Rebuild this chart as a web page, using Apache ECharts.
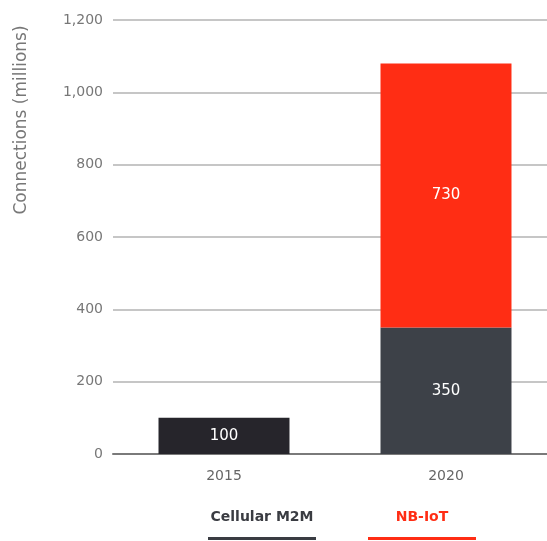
<!DOCTYPE html>
<html>
<head>
<meta charset="utf-8">
<script src="https://cdn.jsdelivr.net/npm/echarts@6/dist/echarts.min.js"></script>
<style>
html,body{margin:0;padding:0;background:#fff;}
#chart{width:547px;height:541px;}
</style>
</head>
<body>
<div id="chart"></div>
<script>
// data
var years = ['2015', '2020'];
var m2m = [100, 350];
var nbiot = [null, 730];
var yTicks = [0, 200, 400, 600, 800, 1000, 1200];

var FONT = 'DejaVu Sans';
var chart = echarts.init(document.getElementById('chart'));

function legendFor(name, color, left) {
	return {
		left: left,
		top: 510,
		padding: 0,
		icon: 'none',
		itemWidth: 0,
		selectedMode: false,
		data: [name],
		formatter: function(n) {
			return '{t|' + n + '}\n{l|}';
		},
		textStyle: {
			rich: {
				t: {width: 108, align: 'center', lineHeight: 20, padding: [0, 0, 20, 0],
					color: color, fontFamily: FONT, fontSize: 14, fontWeight: 'bold'},
				l: {width: 108, height: 3, backgroundColor: color}
			}
		}
	};
}

var option = {
	animation: false,
	backgroundColor: '#fff',
	grid: {left: 113, width: 444, top: 20, bottom: 87, outerBoundsMode: 'none', containLabel: false},
	graphic: [{
		type: 'text',
		x: 22, y: 120,
		rotation: Math.PI / 2,
		style: {
			text: 'Connections (millions)',
			fill: '#777',
			font: '17px ' + FONT,
			textAlign: 'center',
			textVerticalAlign: 'middle'
		}
	}],
	legend: [legendFor('Cellular M2M', '#3a3c42', 203), legendFor('NB-IoT', '#ff2d14', 363)],
	xAxis: {
		type: 'category',
		data: years,
		axisTick: {show: false},
		axisLine: {lineStyle: {color: '#7a7a7a', width: 2}},
		axisLabel: {color: '#666', fontFamily: FONT, fontSize: 14, margin: 15}
	},
	yAxis: {
		type: 'value',
		min: yTicks[0],
		max: yTicks[yTicks.length - 1],
		interval: 200,
		axisLine: {show: false},
		axisTick: {show: false},
		splitLine: {lineStyle: {color: '#b3b3b3', width: 1.5}},
		axisLabel: {
			color: '#777', fontFamily: FONT, fontSize: 14, margin: 10,
			formatter: function(v) { return v.toLocaleString('en-US'); }
		}
	},
	series: [{
		name: 'Cellular M2M',
		type: 'bar',
		stack: 'total',
		barWidth: '59%',
		itemStyle: {color: '#3d4148'},
		data: m2m.map(function(v, i) {
			return i === 0 ? {value: v, itemStyle: {color: '#26252b'}} : v;
		}),
		label: {show: true, position: 'inside', color: '#fff', fontFamily: FONT, fontSize: 15}
	}, {
		name: 'NB-IoT',
		type: 'bar',
		stack: 'total',
		barWidth: '59%',
		itemStyle: {color: '#ff2d14'},
		data: nbiot,
		label: {show: true, position: 'inside', color: '#fff', fontFamily: FONT, fontSize: 15}
	}]
};
chart.setOption(option);
</script>
</body>
</html>
